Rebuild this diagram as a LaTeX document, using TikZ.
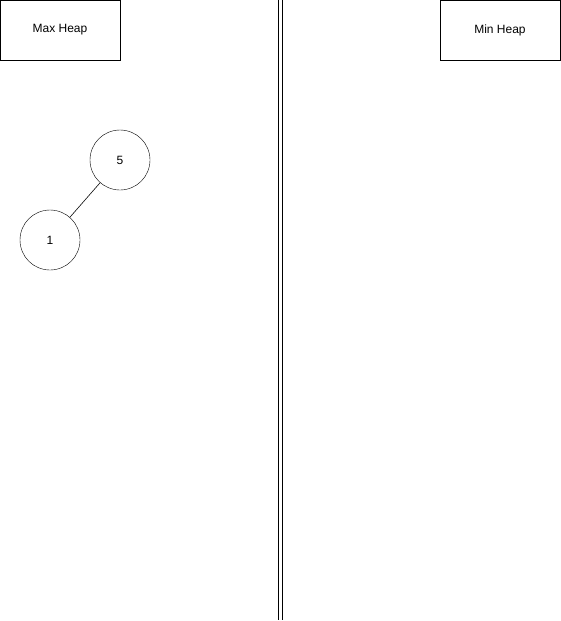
\documentclass[tikz,border=0pt]{standalone}
\usepackage{fontspec}
\setmainfont{Liberation Sans}
\usetikzlibrary{positioning}

\begin{document}
\begin{tikzpicture}
[x=1pt,y=-1pt,
font=\fontsize{12}{14}\selectfont,
label box/.style={rectangle,draw=black,minimum width=120pt,minimum height=60pt,inner sep=0pt},
heap node/.style={circle,draw=black,minimum size=60pt,inner sep=0pt},
edge line/.style={draw=black,semithick},
divider/.style={draw=black,double distance=3pt,semithick}]
\useasboundingbox (0,0) rectangle (561,621);
\node[label box] (max heap) at (60,30) {Max Heap};
\node[label box] (min heap) at (500,30) {Min Heap};
\node[heap node] (five) at (120,160) {5};
\node[heap node] (one) at (50,240) {1};
\draw[edge line] (five) -- (one);
\coordinate (top) at (280.5,0);
\coordinate (bottom) at (280.5,620);
\draw[divider] (top) -- (bottom);
\end{tikzpicture}
\end{document}
